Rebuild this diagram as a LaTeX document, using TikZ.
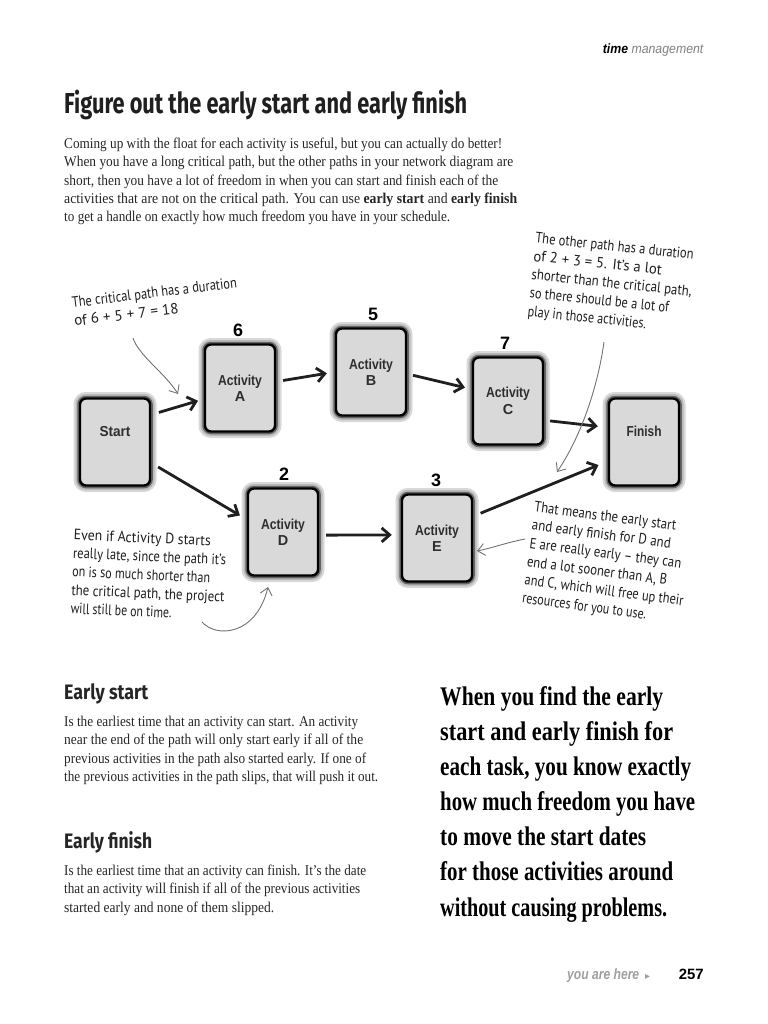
\documentclass[tikz,border=0pt]{standalone}
\usepackage{fontspec}
\usepackage{graphicx}
\usetikzlibrary{arrows.meta}
\setmainfont{Liberation Serif}
\newfontfamily\bodyfont{Liberation Serif}
\newfontfamily\sansfont{Liberation Sans}
\newfontfamily\titlefont{Fira Sans}
\newfontfamily\handfont{PT Sans}
\newfontfamily\quotefont{Liberation Serif}
\newfontfamily\symfont{DejaVu Sans}
\newcommand\fitl[2]{\resizebox{#1bp}{\height}{#2}}
\begin{document}
\begin{tikzpicture}[x=1bp,y=-1bp,
  actbox/.style={rectangle, rounded corners=6bp, fill=gray!30, draw=black,
    line width=2.4bp, minimum width=70bp, minimum height=87bp, align=center,
    text=black!82,
    font=\fontsize{14.5}{16.5}\selectfont\sansfont\bfseries,
    preaction={draw=gray!30, line width=13bp},
    preaction={draw=gray!55, line width=9bp},
    preaction={draw=black!60, line width=5.5bp}},
  numlbl/.style={font=\fontsize{18}{20}\selectfont\sansfont\bfseries, inner sep=0},
  mainarrow/.style={line width=2.8bp, draw=black!88,
    -{Straight Barb[length=8bp,width=14bp]}},
  handarrow/.style={draw=black!55, line width=0.9bp,
    -{Straight Barb[length=7bp,width=12bp]}},
  handtext/.style={font=\fontsize{15}{18.5}\selectfont\handfont, text=black!88,
    align=left, inner sep=0, anchor=north west},
  bodytext/.style={font=\fontsize{15}{18.3}\selectfont\bodyfont, text=black!85,
    align=left, inner sep=0, anchor=north west},
  headtext/.style={font=\fontsize{21}{24}\selectfont\titlefont\bfseries, text=black!85,
    inner sep=0, anchor=west}
]
\useasboundingbox (0,0) rectangle (768,1024);
\fill[white] (0,0) rectangle (768,1024);

% header
\node[anchor=base east, inner sep=0, font=\fontsize{13.5}{15}\selectfont\sansfont] (hdr) at (704,53)
  {\fitl{101}{\textbf{\textit{time}} \textcolor{gray}{\textit{management}}}};

% title
\node[anchor=base west, inner sep=0, font=\fontsize{29}{32}\selectfont\titlefont\bfseries, text=black!88] (title) at (64,113)
  {\fitl{403}{Figure out the early start and early finish}};

% intro paragraph
\node[bodytext] (intro) at (64,138) {%
\fitl{438}{Coming up with the float for each activity is useful, but you can actually do better!}\\
\fitl{449}{When you have a long critical path, but the other paths in your network diagram are}\\
\fitl{434}{short, then you have a lot of freedom in when you can start and finish each of the}\\
\fitl{453}{activities that are not on the critical path. You can use \textbf{early start} and \textbf{early finish}}\\
\fitl{386}{to get a handle on exactly how much freedom you have in your schedule.}};

% boxes
\node[actbox] (S) at (115,442) {\fitl{31}{Start}\\[5bp]\mbox{}};
\node[actbox] (A) at (240,388) {\fitl{44}{Activity}\\A};
\node[actbox] (B) at (371,372) {\fitl{44}{Activity}\\B};
\node[actbox] (C) at (508,401) {\fitl{44}{Activity}\\C};
\node[actbox] (F) at (644,442) {\fitl{35}{Finish}\\[5bp]\mbox{}};
\node[actbox] (D) at (283,532) {\fitl{44}{Activity}\\D};
\node[actbox] (E) at (437,538) {\fitl{44}{Activity}\\E};

% durations
\node[numlbl] (nA) at (238,330) {6};
\node[numlbl] (nB) at (373,314) {5};
\node[numlbl] (nC) at (505,343) {7};
\node[numlbl] (nD) at (284,474) {2};
\node[numlbl] (nE) at (436,480) {3};

% main arrows
\draw[mainarrow, shorten <=8bp, shorten >=6bp] (S.37) -- (A.197);
\draw[mainarrow, shorten <=7bp, shorten >=8bp] (A.10) -- (B.180);
\draw[mainarrow, shorten <=6bp, shorten >=7bp] (B.-3) -- (C.162);
\draw[mainarrow, shorten <=6bp, shorten >=10bp] (C.-28) -- (F.158);
\draw[mainarrow, shorten <=8bp, shorten >=8bp] (S.-30) -- (D.161);
\draw[mainarrow, shorten <=7bp, shorten >=9bp] (D.-5) -- (E.175);
\draw[mainarrow, shorten <=8bp, shorten >=10bp] (E.31) -- (F.208);

% annotations
\node[handtext, rotate=7] (n1) at (71,297) {%
\fitl{166}{The critical path has a duration}\\
\fitl{105}{of 6 + 5 + 7 = 18}};
\coordinate (a1s) at (133,338);
\coordinate (a1e) at (178,394);
\draw[handarrow] (a1s) .. controls (139,356) and (165,373) .. (a1e);

\node[handtext, rotate=-6] (n2) at (536,232) {%
\fitl{159}{The other path has a duration}\\
\fitl{129}{of 2 + 3 = 5. It’s a lot}\\
\fitl{161}{shorter than the critical path,}\\
\fitl{140}{so there should be a lot of}\\
\fitl{119}{play in those activities.}};
\coordinate (a2s) at (604,342);
\coordinate (a2e) at (557,472);
\draw[handarrow] (a2s) .. controls (598,385) and (582,435) .. (a2e);

\node[handtext, rotate=-2.5] (n3) at (74,529) {%
\fitl{137}{Even if Activity D starts}\\
\fitl{153}{really late, since the path it’s}\\
\fitl{138}{on is so much shorter than}\\
\fitl{153}{the critical path, the project}\\
\fitl{101}{will still be on time.}};
\coordinate (a3s) at (202,622);
\coordinate (a3e) at (268,587);
\draw[handarrow] (a3s) .. controls (216,638) and (256,636) .. (a3e);

\node[handtext, rotate=-7.5] (n4) at (535,501) {%
\fitl{143}{That means the early start}\\
\fitl{140}{and early finish for D and}\\
\fitl{153}{E are really early – they can}\\
\fitl{141}{end a lot sooner than A, B}\\
\fitl{160}{and C, which will free up their}\\
\fitl{125}{resources for you to use.}};
\coordinate (a4s) at (525,539);
\coordinate (a4e) at (477,551);
\draw[handarrow] (a4s) .. controls (505,543) and (492,548) .. (a4e);

% early start / finish
\node[headtext] (hs) at (64,694) {\fitl{84}{Early start}};
\node[bodytext] (ps) at (64,716) {%
\fitl{294}{Is the earliest time that an activity can start. An activity}\\
\fitl{299}{near the end of the path will only start early if all of the}\\
\fitl{302}{previous activities in the path also started early. If one of}\\
\fitl{314}{the previous activities in the path slips, that will push it out.}};
\node[headtext] (hf) at (64,842) {\fitl{88}{Early finish}};
\node[bodytext] (pf) at (64,865) {%
\fitl{302}{Is the earliest time that an activity can finish. It’s the date}\\
\fitl{296}{that an activity will finish if all of the previous activities}\\
\fitl{210}{started early and none of them slipped.}};

% pull quote
\node[anchor=north west, align=left, inner sep=0, text=black,
  font=\fontsize{27}{35.3}\selectfont\quotefont\bfseries] (pq) at (440,686) {%
\fitl{223}{When you find the early}\\
\fitl{233}{start and early finish for}\\
\fitl{251}{each task, you know exactly}\\
\fitl{255}{how much freedom you have}\\
\fitl{206}{to move the start dates}\\
\fitl{233}{for those activities around}\\
\fitl{227}{without causing problems.}};

% footer
\node[anchor=base west, inner sep=0, text=gray!75, font=\fontsize{15}{17}\selectfont\sansfont\bfseries\itshape] (yah) at (567,979)
  {\fitl{72}{you are here}\hspace{6bp}{\symfont\fontsize{10}{10}\selectfont ▸}};
\node[anchor=base east, inner sep=0, font=\fontsize{15}{17}\selectfont\sansfont\bfseries] (pg) at (704,979) {257};
\end{tikzpicture}
\end{document}
